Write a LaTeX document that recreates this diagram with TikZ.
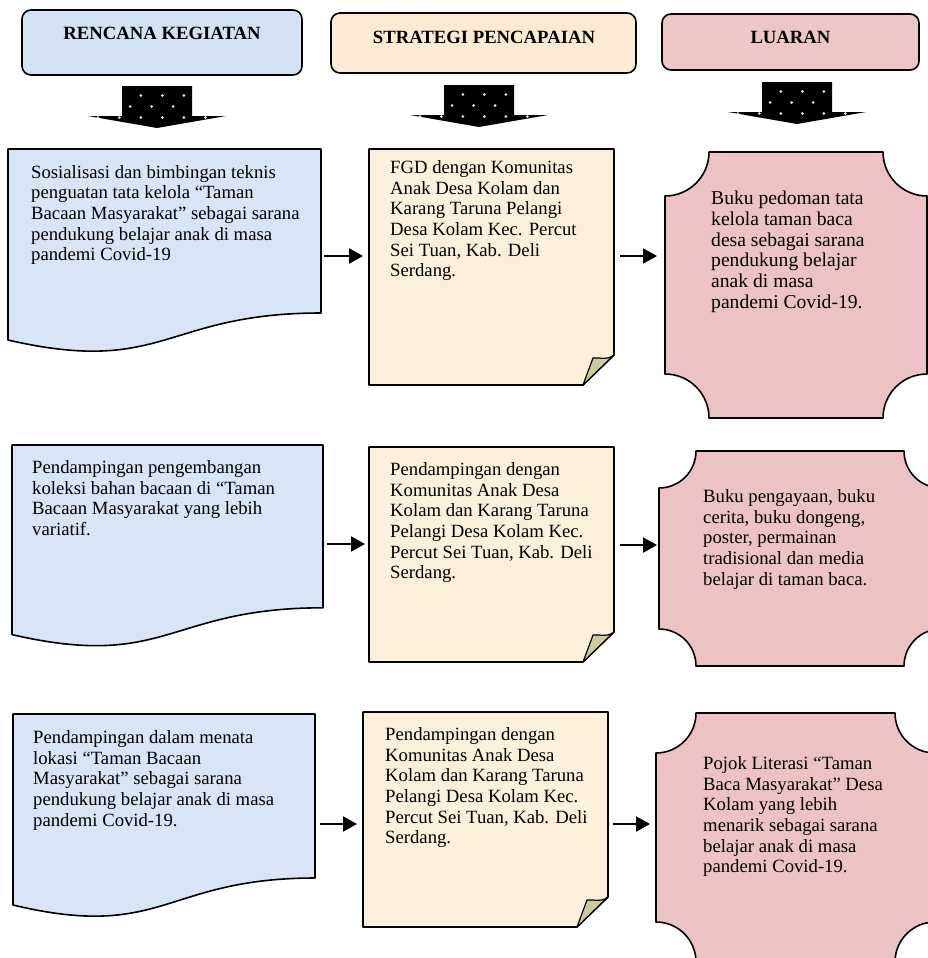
\documentclass[tikz,border=0pt]{standalone}
\usepackage{fontspec}
\setmainfont{Liberation Serif}
\usetikzlibrary{arrows.meta}
\definecolor{hblue}{HTML}{D2E2F2}
\definecolor{bodyblue}{HTML}{D8E5F4}
\definecolor{hcream}{HTML}{FBEBD3}
\definecolor{bodycream}{HTML}{FCF0DA}
\definecolor{hpink}{HTML}{EEC6C6}
\definecolor{bodypink}{HTML}{ECC2C4}
\definecolor{foldc}{HTML}{CDCB9B}
\tikzset{
  shapeline/.style={draw=black, line width=1.6pt, line join=round},
  headbox/.style={shapeline, rounded corners=9pt},
  headtext/.style={font=\fontsize{18.7}{20.8}\selectfont\bfseries, inner sep=0pt, anchor=base},
  bodytext/.style={font=\fontsize{18.7}{20.7}\selectfont, align=left, inner sep=0pt, anchor=north west},
  bigtext/.style={bodytext, font=\fontsize{19.6}{20.7}\selectfont},
  flow/.style={line width=2.2pt, -{Triangle[length=14pt,width=15pt]}}
}
\newcommand\blockarr[2]{%
  \begin{scope}
    \fill[black] (#1-35,#2) -- (#1+35,#2) -- (#1+35,#2+30) -- (#1+69,#2+30) -- (#1,#2+42) -- (#1-69,#2+30) -- (#1-35,#2+30) -- cycle;
    \clip (#1-35,#2+1) -- (#1+35,#2+1) -- (#1+35,#2+30) -- (#1+69,#2+30) -- (#1,#2+42) -- (#1-69,#2+30) -- (#1-35,#2+30) -- cycle;
    \foreach \j in {0,...,4}{
      \pgfmathsetmacro\off{ifthenelse(mod(\j,2)==1,5.4,-5.4)}
      \foreach \i in {-3,...,3}{
        \fill[white!80!gray] ({#1+21.5*\i+\off},{#2-1.5+11*\j}) circle (1.5pt);
      }
    }
  \end{scope}}
\newcommand\docshape[4]{%
  \draw[shapeline, fill=bodyblue] (#1,#2) -- (#3,#2) -- (#3,{#2+0.802*#4})
    .. controls ({(#1+#3)/2},{#2+0.802*#4}) and ({(#1+#3)/2},{#2+1.1106*#4}) .. (#1,{#2+0.934*#4}) -- cycle;}
\newcommand\noteshape[4]{%
  \draw[shapeline, fill=bodycream] (#1,#2) -- (#3,#2) -- (#3,#4-30) -- (#3-31,#4) -- (#1,#4) -- cycle;
  \draw[shapeline, line width=1.2pt, fill=foldc] (#3,#4-30) .. controls (#3-8,#4-24) and (#3-14,#4-28) .. (#3-21,#4-27) -- (#3-31,#4) -- cycle;}
\newcommand\plaqueshape[5]{%
  \draw[shapeline, fill=bodypink] (#1,#2+#5)
    .. controls ({#1+0.5523*#5},#2+#5) and (#1+#5,{#2+0.5523*#5}) .. (#1+#5,#2)
    -- (#3-#5,#2)
    .. controls (#3-#5,{#2+0.5523*#5}) and ({#3-0.5523*#5},#2+#5) .. (#3,#2+#5)
    -- (#3,#4-#5)
    .. controls ({#3-0.5523*#5},#4-#5) and (#3-#5,{#4-0.5523*#5}) .. (#3-#5,#4)
    -- (#1+#5,#4)
    .. controls (#1+#5,{#4-0.5523*#5}) and ({#1+0.5523*#5},#4-#5) .. (#1,#4-#5)
    -- cycle;}
\begin{document}
\begin{tikzpicture}[x=1pt,y=-1pt]
\useasboundingbox (0,0) rectangle (928,958);
% headers
\draw[headbox, fill=hblue] (22,10) rectangle (302,75);
\node[headtext] (h1) at (162,39.3) {RENCANA KEGIATAN};
\draw[headbox, fill=hcream] (331,13) rectangle (636,73);
\node[headtext] (h2) at (484,43.3) {STRATEGI PENCAPAIAN};
\draw[headbox, fill=hpink] (662,14) rectangle (919,70);
\node[headtext] (h3) at (790.5,43.3) {LUARAN};
% block arrows
\blockarr{157}{86}
\blockarr{479}{85}
\blockarr{797}{82}
% row 1
\docshape{8}{149}{321}{204.5}
\node[bodytext] (d1) at (31,165) {Sosialisasi dan bimbingan teknis\\penguatan tata kelola “Taman\\Bacaan Masyarakat” sebagai sarana\\pendukung belajar anak di masa\\pandemi Covid-19};
\noteshape{369}{149}{614}{385}
\node[bodytext] (n1) at (390,160.3) {FGD dengan Komunitas\\Anak Desa Kolam dan\\Karang Taruna Pelangi\\Desa Kolam Kec. Percut\\Sei Tuan, Kab. Deli\\Serdang.};
\plaqueshape{665}{152}{927}{418}{44}
\node[bigtext] (p1) at (711,190.8) {Buku pedoman tata\\kelola taman baca\\desa sebagai sarana\\pendukung belajar\\anak di masa\\pandemi Covid-19.};
% row 2
\docshape{12}{445}{323}{203}
\node[bodytext] (d2) at (32,460.3) {Pendampingan pengembangan\\koleksi bahan bacaan di “Taman\\Bacaan Masyarakat yang lebih\\variatif.};
\noteshape{369}{447}{614}{662}
\node[bodytext] (n2) at (390,462.3) {Pendampingan dengan\\Komunitas Anak Desa\\Kolam dan Karang Taruna\\Pelangi Desa Kolam Kec.\\Percut Sei Tuan, Kab. Deli\\Serdang.};
\plaqueshape{659}{451}{941}{666}{37}
\node[bodytext] (p2) at (703,489.3) {Buku pengayaan, buku\\cerita, buku dongeng,\\poster, permainan\\tradisional dan media\\belajar di taman baca.};
% row 3
\docshape{13}{714}{315}{204.5}
\node[bodytext] (d3) at (33,730.3) {Pendampingan dalam menata\\lokasi “Taman Bacaan\\Masyarakat” sebagai sarana\\pendukung belajar anak di masa\\pandemi Covid-19.};
\noteshape{363}{712}{608}{927}
\node[bodytext] (n3) at (385,727.3) {Pendampingan dengan\\Komunitas Anak Desa\\Kolam dan Karang Taruna\\Pelangi Desa Kolam Kec.\\Percut Sei Tuan, Kab. Deli\\Serdang.};
\plaqueshape{656}{713}{935}{962}{40}
\node[bodytext] (p3) at (703,756.3) {Pojok Literasi “Taman\\Baca Masyarakat” Desa\\Kolam yang lebih\\menarik sebagai sarana\\belajar anak di masa\\pandemi Covid-19.};
% connectors
\coordinate (a1s) at (324,256); \coordinate (a1e) at (363,256);
\coordinate (b1s) at (620,256); \coordinate (b1e) at (657,256);
\coordinate (a2s) at (327,544); \coordinate (a2e) at (365,544);
\coordinate (b2s) at (620,545); \coordinate (b2e) at (657,545);
\coordinate (a3s) at (320,824); \coordinate (a3e) at (357,824);
\coordinate (b3s) at (613,824); \coordinate (b3e) at (650,824);
\draw[flow] (a1s) -- (a1e);
\draw[flow] (b1s) -- (b1e);
\draw[flow] (a2s) -- (a2e);
\draw[flow] (b2s) -- (b2e);
\draw[flow] (a3s) -- (a3e);
\draw[flow] (b3s) -- (b3e);
\end{tikzpicture}
\end{document}
